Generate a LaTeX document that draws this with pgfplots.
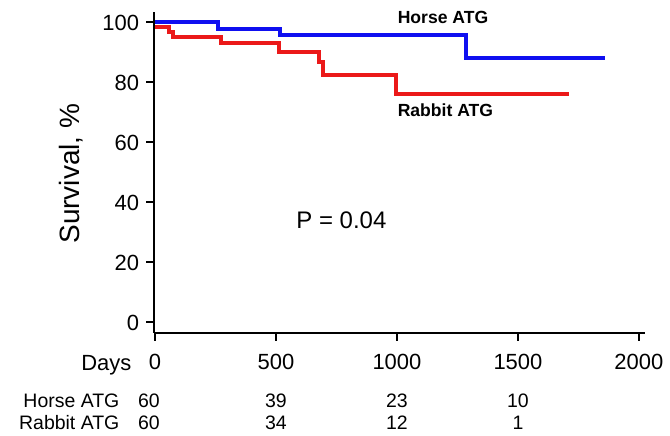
\documentclass[border=0pt]{standalone}
\usepackage{fontspec}
\setmainfont{Liberation Sans}
\usepackage{pgfplots}
\pgfplotsset{compat=1.18}
\definecolor{kmblue}{RGB}{15,15,240}
\definecolor{kmred}{RGB}{235,25,25}
\tikzset{risk/.style={inner sep=0, font=\fontsize{9.75}{11}\selectfont}}
\begin{document}
\begin{tikzpicture}
\begin{axis}[
  scale only axis,
  width=245.85pt, height=160.9pt,
  xmin=-4, xmax=2025, ymin=-3.5, ymax=103.6,
  axis x line*=bottom, axis y line*=left,
  axis line style={line width=1pt,-},
  xtick={0,500,1000,1500,2000},
  ytick={0,20,40,60,80,100},
  tick align=outside,
  major tick length=4pt,
  tick style={line width=1pt,black},
  /pgf/number format/assume math mode=true,
  /pgf/number format/set thousands separator={},
  tick label style={font=\fontsize{11}{13}\selectfont},
  xticklabel style={yshift=-3pt},
  clip=false,
  ylabel={Survival, \%},
  every axis y label/.style={at={(axis description cs:-0.169,0.496)},rotate=90,anchor=center,font=\fontsize{14}{16}\selectfont},
]
\path (rel axis cs:-0.3138,-0.3185) rectangle (rel axis cs:1.0488,1.0364);
\addplot[const plot, kmblue, line width=2pt, line join=miter] coordinates {
 (0,100) (260,97.7) (516,95.8) (1287,88.0) (1860,88.0)};
\addplot[const plot, kmred, line width=2pt, line join=miter] coordinates {
 (0,98.5) (58,96.8) (74,95.2) (272,93.0) (512,90.0) (677,86.9) (693,82.4) (998,76.1) (1712,76.1)};
\node[anchor=west, inner sep=0, font=\fontsize{8.8}{10}\selectfont\bfseries] at (rel axis cs:0.4956,0.9835) {Horse ATG};
\node[anchor=west, inner sep=0, font=\fontsize{8.8}{10}\selectfont\bfseries] at (rel axis cs:0.4956,0.6945) {Rabbit ATG};
\node[inner sep=0, font=\fontsize{12}{14}\selectfont] at (rel axis cs:0.3817,0.3496) {P = 0.04};
\node[anchor=east, inner sep=0, font=\fontsize{11}{13}\selectfont] at (rel axis cs:-0.0454,-0.101) {Days};
\node[anchor=east, risk] at (rel axis cs:-0.0698,-0.2098) {Horse ATG};
\node[anchor=east, risk] at (rel axis cs:-0.0698,-0.2781) {Rabbit ATG};
\node[risk] at ({axis cs:-25,0} |- {rel axis cs:0,-0.2098}) {60};
\node[risk] at ({axis cs:500,0} |- {rel axis cs:0,-0.2098}) {39};
\node[risk] at ({axis cs:1000,0} |- {rel axis cs:0,-0.2098}) {23};
\node[risk] at ({axis cs:1500,0} |- {rel axis cs:0,-0.2098}) {10};
\node[risk] at ({axis cs:-25,0} |- {rel axis cs:0,-0.2781}) {60};
\node[risk] at ({axis cs:500,0} |- {rel axis cs:0,-0.2781}) {34};
\node[risk] at ({axis cs:1000,0} |- {rel axis cs:0,-0.2781}) {12};
\node[risk] at ({axis cs:1500,0} |- {rel axis cs:0,-0.2781}) {1};
\end{axis}
\end{tikzpicture}
\end{document}
